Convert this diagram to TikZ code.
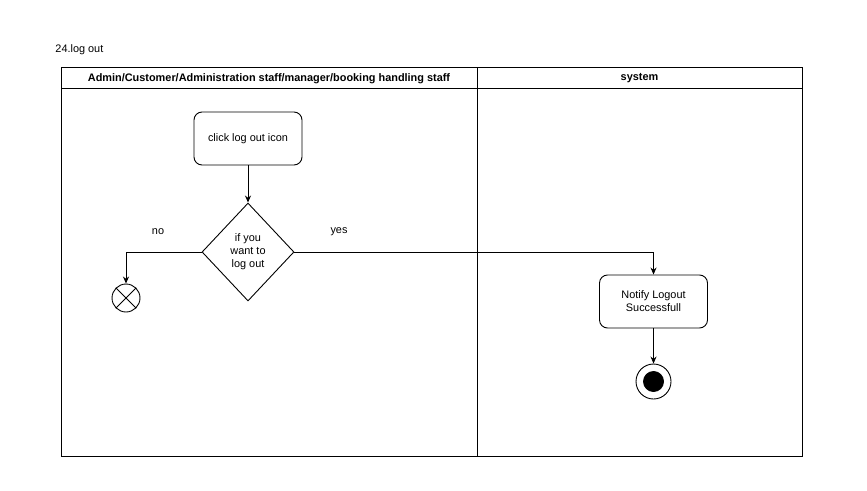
\documentclass[tikz,border=0pt]{standalone}
\usepackage{fontspec}
\setmainfont{Liberation Sans}
\usetikzlibrary{arrows.meta,shapes.geometric}

\begin{document}
\begin{tikzpicture}[x=1pt,y=-1pt,>={Stealth[length=7pt,width=6pt]},line width=0.9pt,
  every node/.style={font=\fontsize{10.9}{13}\selectfont},
  action/.style={draw,rounded corners=8pt,minimum width=108pt,minimum height=53pt,align=center,inner sep=2pt,text depth=1.5pt},
  decision/.style={draw,diamond,minimum width=92pt,minimum height=98pt,aspect=0.94,inner sep=0pt,align=center}]
\useasboundingbox (0,0) rectangle (867,490);

\node[anchor=west,inner sep=0pt] (title) at (55,49.5) {24.log out};

% swimlanes
\draw (61,67) rectangle (802,456);
\draw (61,88) -- (802,88);
\draw (477,67) -- (477,456);
\node[font=\fontsize{10.9}{13}\selectfont\bfseries] (laneuser) at (269,78.5) {Admin/Customer/Administration staff/manager/booking handling staff};
\node[font=\fontsize{10.9}{13}\selectfont\bfseries] (lanesys) at (639.5,78.5) {system};

\node[action] (click) at (248,138.5) {click log out icon};
\node[decision] (want) at (248,252) {if you\\want to\\log out};
\node[action] (notify) at (653.5,301.5) {Notify Logout\\Successfull};

\node[draw,circle,minimum size=28pt,inner sep=0pt] (flowend) at (126,298) {};
\draw (flowend.north west) -- (flowend.south east);
\draw (flowend.north east) -- (flowend.south west);
\node[draw,circle,minimum size=20pt,inner sep=0pt,fill=black] (finaldot) at (653.5,381.5) {};
\node[draw,circle,minimum size=35pt,inner sep=0pt] (final) at (653.5,381.5) {};
\draw[->] (click) -- (want);
\draw[->] (want.west) -| (flowend.north);
\draw[->] (want.east) -| (notify.north);
\draw[->] (notify) -- (final);

\node (no) at (158,232) {no};
\node (yes) at (339,232) {yes};
\end{tikzpicture}
\end{document}
